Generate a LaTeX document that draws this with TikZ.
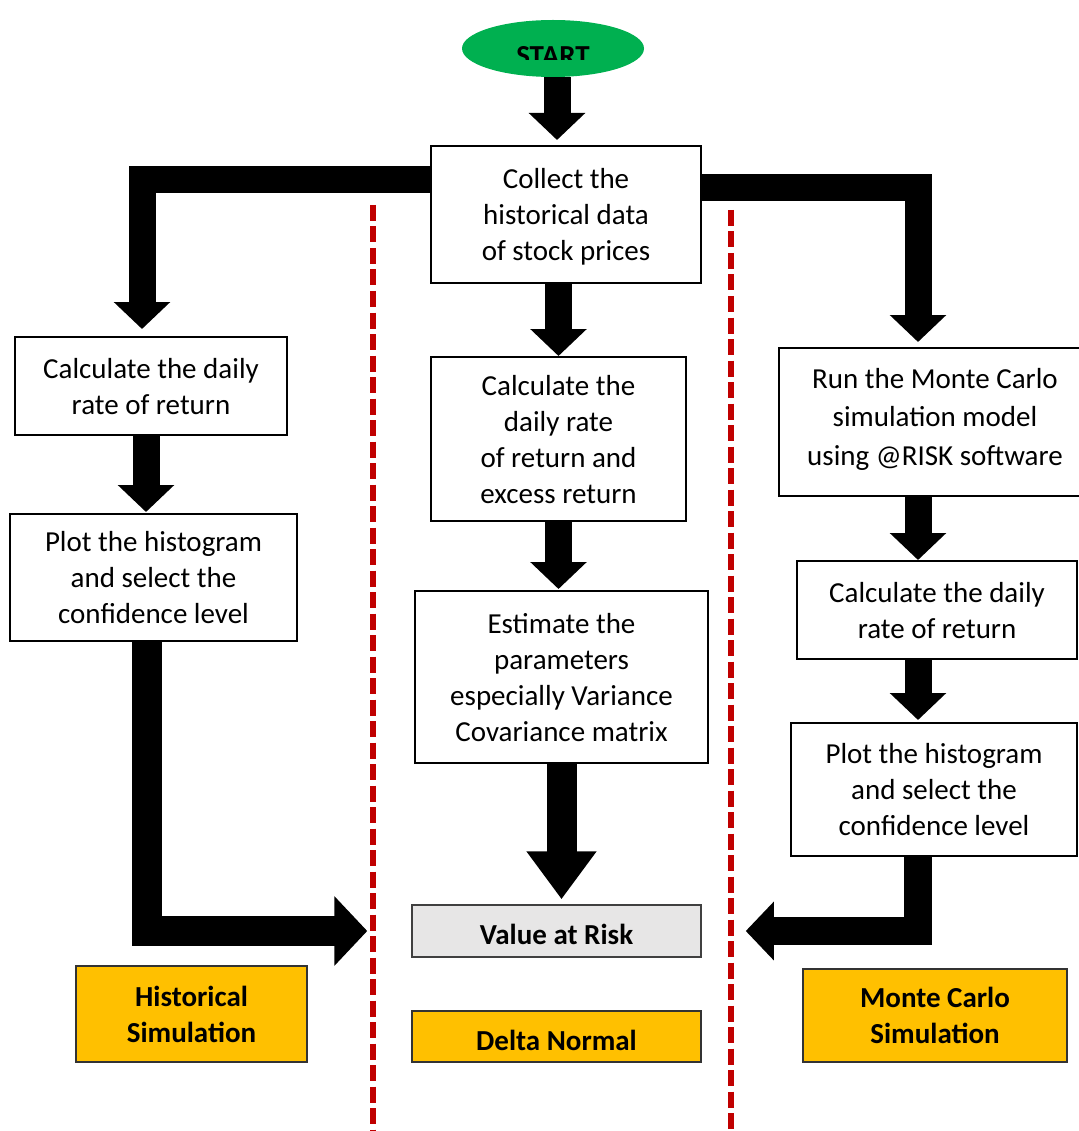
\documentclass[tikz,border=0pt]{standalone}
\usepackage{fontspec}
\setmainfont{Carlito}
\usepackage{tikz}
\usetikzlibrary{arrows.meta, positioning, calc, shapes.geometric}
\usepackage{xcolor}
\definecolor{startgreen}{HTML}{00B050}
\definecolor{labelgold}{HTML}{FFC000}
\definecolor{splitred}{HTML}{C00000}
\definecolor{vargray}{HTML}{E7E6E6}

\begin{document}
\begin{tikzpicture}[x=1pt, y=-1pt,
    every node/.style={font=\fontsize{29}{36}\selectfont, align=center, inner sep=0pt,
                       text depth=0pt},
    procbox/.style={draw=black, line width=2pt, fill=white},
    methodbox/.style={draw=black!80, line width=1.5pt, fill=labelgold,
                      font=\fontsize{29}{36}\selectfont\bfseries},
    blk/.style={line width=27pt, line join=miter,
                -{Triangle[width=55pt, length=27pt]}},
    splitline/.style={draw=splitred, line width=6pt, dash pattern=on 16pt off 5.5pt}]
  \useasboundingbox (0,0) rectangle (1078,1131);

  % separators between the three methods
  \draw[splitline] (373,205) -- (373,1131);
  \draw[splitline] (731,210) -- (731,1131);

  % start
  \node[ellipse, fill=startgreen, minimum width=182pt, minimum height=57pt,
        path picture={
          \clip (path picture bounding box.north west) rectangle
                ([yshift=-11.5pt]path picture bounding box.east);
          \node[anchor=base, font=\fontsize{29}{36}\selectfont\bfseries]
            at ([yshift=-17pt]path picture bounding box.center) {START};
        }] (start) at (553, 48.5) {};

  % boxes
  \node[procbox, minimum width=270pt, minimum height=137pt] (collect) at (566, 214.5)
    {Collect the\\historical data\\of stock prices};

  \node[procbox, minimum width=272pt, minimum height=98pt] (hist1) at (151, 386)
    {Calculate the daily\\rate of return};
  \node[procbox, minimum width=287pt, minimum height=127pt] (hist2) at (153.5, 577.5)
    {Plot the histogram\\and select the\\confidence level};

  \node[procbox, minimum width=255pt, minimum height=164pt] (dn1) at (558.5, 439)
    {Calculate the\\daily rate\\of return and\\excess return};
  \node[procbox, minimum width=293pt, minimum height=172pt] (dn2) at (561.5, 677)
    {Estimate the\\parameters\\especially Variance\\Covariance matrix};
  \node[draw=black!75, line width=1.5pt, fill=vargray, minimum width=289pt,
        minimum height=52pt, text height=27pt,
        font=\fontsize{29}{36}\selectfont\bfseries] (var) at (556.5, 931)
    {Value at Risk};

  \node[procbox, minimum width=312pt, minimum height=148pt, text depth=11pt,
        font=\fontsize{29}{38.5}\selectfont] (mc1) at (935, 422)
    {Run the Monte Carlo\\simulation model\\using @RISK software};
  \node[procbox, minimum width=280pt, minimum height=98pt] (mc2) at (937, 610)
    {Calculate the daily\\rate of return};
  \node[procbox, minimum width=286pt, minimum height=133pt] (mc3) at (934, 789.5)
    {Plot the histogram\\and select the\\confidence level};

  % method labels
  \node[methodbox, minimum width=231pt, minimum height=96pt] (histlab) at (191.5, 1014)
    {Historical\\Simulation};
  \node[methodbox, minimum width=289pt, minimum height=51pt, text height=28pt] (dnlab) at (556.5, 1036.5)
    {Delta Normal};
  \node[methodbox, minimum width=264pt, minimum height=93pt] (mclab) at (935, 1015.5)
    {Monte Carlo\\Simulation};

  % arrows
  \draw[blk, shorten >=5pt] ([xshift=4pt]start.south) -- ([xshift=4pt]start.south |- collect.north);
  \draw[blk, shorten >=7pt] ([yshift=34.5pt]collect.west) -| ([xshift=-9pt]hist1.north);
  \draw[blk, shorten >=5pt] ([yshift=27pt]collect.east) -| ([xshift=-17pt]mc1.north);

  \draw[blk, shorten >=1pt] ([xshift=-5pt]hist1.south) -- ([xshift=-5pt]hist1.south |- hist2.north);
  \draw[blk, line width=30pt, -{Triangle[width=68pt, length=33pt]}, shorten >=44pt]
    ([xshift=-6.5pt]hist2.south) |- (var.west);

  \draw[blk] (dn1.north |- collect.south) -- (dn1.north);
  \draw[blk, shorten >=1pt] (dn1.south) -- (dn1.south |- dn2.north);
  \draw[blk, line width=30pt, -{Triangle[width=67pt, length=48pt]}, shorten >=5pt]
    (dn2.south) -- (dn2.south |- var.north);

  \draw[blk] ([xshift=-17pt]mc1.south) -- ([xshift=-17pt]mc1.south |- mc2.north);
  \draw[blk, shorten >=2pt] ([xshift=-19pt]mc2.south) -- ([xshift=-19pt]mc2.south |- mc3.north);
  \draw[blk, line width=28pt, -{Triangle[width=57pt, length=28pt]}, shorten >=44pt]
    ([xshift=-16pt]mc3.south) |- (var.east);
\end{tikzpicture}
\end{document}
